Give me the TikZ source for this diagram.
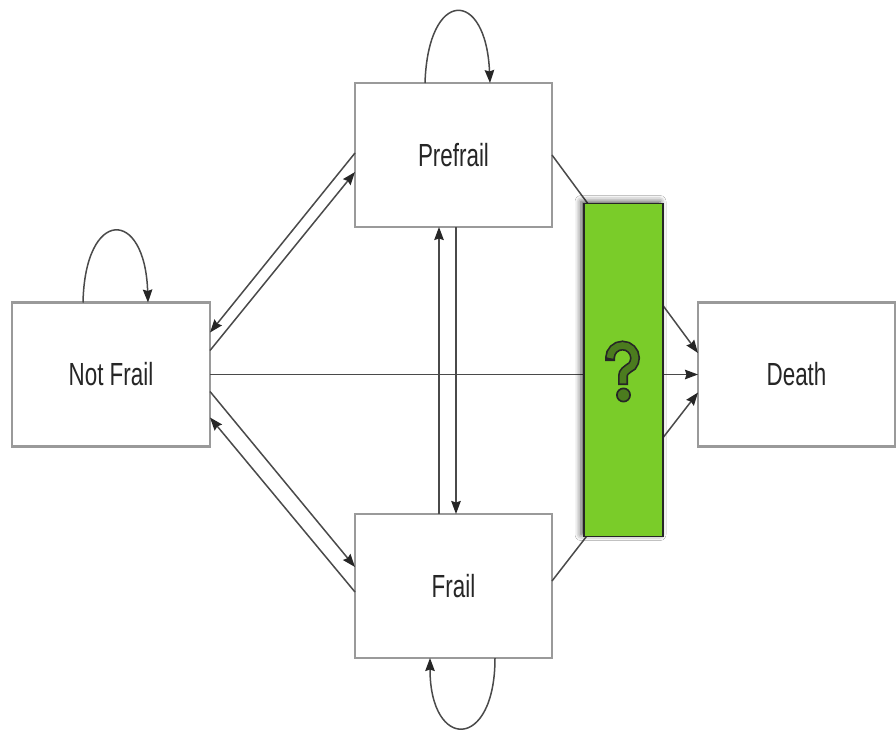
\documentclass[tikz,border=0pt]{standalone}
\usepackage{fontspec}
\setmainfont{Liberation Sans}
\usetikzlibrary{arrows.meta,shadows.blur}
\definecolor{boxline}{HTML}{9A9A9A}
\definecolor{conn}{HTML}{4A4A4A}
\definecolor{labeltext}{HTML}{262626}
\definecolor{qfill}{HTML}{7ACC29}
\definecolor{qmark}{HTML}{4B7B1E}
\definecolor{qedge}{HTML}{262626}
\newcommand{\narrow}[1]{\scalebox{0.7}[1]{#1}}
\tikzset{
  state/.style={draw=boxline, line width=2.2pt, fill=white, rectangle,
    minimum width=197pt, minimum height=144pt, inner sep=0pt, outer sep=0pt,
    text=labeltext, font=\fontsize{32}{38}\selectfont},
  link/.style={draw=conn, line width=1.5pt,
    -{Stealth[length=13pt,width=9.5pt,inset=1.5pt,color=black!85]}},
  qbox/.style={draw=qedge, line width=1.6pt, fill=qfill, rectangle,
    minimum width=79pt, minimum height=333pt, inner sep=0pt, outer sep=0pt,
    blur shadow={shadow xshift=-3pt, shadow yshift=2pt,
      shadow blur radius=6pt, shadow opacity=70}}
}
\begin{document}
\begin{tikzpicture}[x=1pt, y=-1pt]
\useasboundingbox[fill=white] (0,0) rectangle (896,731);

% states
\node[state, minimum width=198pt] (nf) at (111,374.5) {\narrow{Not Frail}};
\node[state] (pf) at (453.5,155) {\narrow{Prefrail}};
\node[state] (fr) at (453.5,586) {\narrow{Frail}};
\node[state] (de) at (796.5,374.5) {\narrow{Death}};

% transitions between the living states
\draw[link] ([yshift=2pt]pf.west) -- ([yshift=42pt]nf.east);
\draw[link] ([yshift=24pt]nf.east) -- ([yshift=-17pt]pf.west);
\draw[link] ([yshift=-17pt]nf.east) -- ([yshift=19pt]fr.west);
\draw[link] ([yshift=-6pt]fr.west) -- ([yshift=-43pt]nf.east);
\draw[link] ([xshift=-14.5pt]fr.north) -- ([xshift=-14.5pt]pf.south);
\draw[link] ([xshift=2.5pt]pf.south) -- ([xshift=2.5pt]fr.north);

% transitions to death
\draw[link] (nf.east) -- (de.west);
\draw[link] (pf.east) -- ([yshift=21.5pt]de.west);
\draw[link] ([yshift=5pt]fr.east) -- ([yshift=-18pt]de.west);

% self loops
\draw[link] ([xshift=-28.5pt]pf.north) .. controls +(3,-95) and +(-4,-95) .. ([xshift=36.5pt]pf.north);
\draw[link] ([xshift=-28pt]nf.north) .. controls +(2,-95) and +(-3,-95) .. ([xshift=37pt]nf.north);
\draw[link] ([xshift=41.5pt]fr.south) .. controls +(0,93) and +(0,93) .. ([xshift=-23.5pt]fr.south);

% unknown pathway box
\node[qbox] (gq) at (623.5,370) {};

% question mark: dark outline under a lighter stroke
\draw[qedge, line width=10pt, line cap=butt]
  (610,361) -- (610,358) arc[start angle=180, end angle=400, radius=12.5]
  .. controls (626,370) and (623,372) .. (623,376) -- (623,385);
\draw[qmark, line width=6.6pt, line cap=butt]
  (610,358) arc[start angle=180, end angle=400, radius=12.5]
  .. controls (626,370) and (623,372) .. (623,376) -- (623,383.3);
\filldraw[fill=qmark, draw=qedge, line width=1.7pt] (623.5,395) circle (6.6pt);
\end{tikzpicture}
\end{document}
